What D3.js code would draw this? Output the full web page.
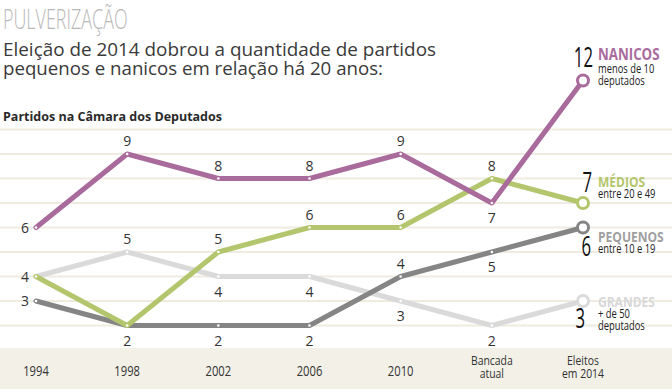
<!DOCTYPE html>
<html>
<head>
<meta charset="utf-8">
<script src="https://cdn.jsdelivr.net/npm/d3@7"></script>
<style>
  body { margin: 0; background: #fff; }
  svg { display: block; }
  text { font-family: "Open Sans", "DejaVu Sans", sans-serif; }
</style>
</head>
<body>
<div id="chart"></div>
<script>
// categories on the x axis (each one may break into two lines)
const categories = ['1994', '1998', '2002', '2006', '2010', 'Bancada|atual', 'Eleitos|em 2014'];

// number of parties in each size group
const nanicos = [6, 9, 8, 8, 9, 7, 12];
const medios = [4, 2, 5, 6, 6, 8, 7];
const pequenos = [3, 2, 2, 2, 4, 5, 6];
const grandes = [4, 5, 4, 4, 3, 2, 3];

// where the value label sits: a = above, b = below, l = left, '' = none
const nanicosLabels = ['l', 'a', 'a', 'a', 'a', 'b', ''];
const mediosLabels = ['l', '', 'a', 'a', 'a', 'a', ''];
const pequenosLabels = ['l', 'b', 'b', 'b', 'a', 'b', ''];
const grandesLabels = ['', 'a', 'b', 'b', 'b', 'b', ''];

const gridValues = [2, 3, 4, 5, 6, 7, 8, 9, 10];

const width = 672;
const height = 392;

const series = [
  { name: 'GRANDES', values: grandes, labels: grandesLabels, color: '#dadada', textColor: '#d8d8d8',
    sub: ['+ de 50', 'deputados'] },
  { name: 'PEQUENOS', values: pequenos, labels: pequenosLabels, color: '#858585', textColor: '#a0a0a0',
    sub: ['entre 10 e 19'] },
  { name: 'MÉDIOS', values: medios, labels: mediosLabels, color: '#b3c66e', textColor: '#b3c66e',
    sub: ['entre 20 e 49'] },
  { name: 'NANICOS', values: nanicos, labels: nanicosLabels, color: '#a96b9c', textColor: '#a96b9c',
    sub: ['menos de 10', 'deputados'] }
];

const xScale = d3.scalePoint()
  .domain(categories)
  .range([36, 583]);

const yScale = d3.scaleLinear()
  .domain([2, 12])
  .range([325.5, 80.5]);

const svg = d3.select('#chart').append('svg')
  .attr('width', width)
  .attr('height', height);

// condensed look: squeeze the measured text horizontally
function narrow(parent, x, y, str, size, sx, anchor, weight) {
  const t = parent.append('text')
    .attr('x', x).attr('y', y)
    .attr('text-anchor', anchor || 'start')
    .style('font-size', size + 'px')
    .style('font-weight', weight || 'normal')
    .text(str);
  const len = t.node().getComputedTextLength();
  t.attr('textLength', len * sx).attr('lengthAdjust', 'spacingAndGlyphs');
  return t;
}

/* header */
narrow(svg, 3, 29, 'PULVERIZAÇÃO', 28, 0.64, 'start', 300)
  .style('fill', '#b8b8b8');

svg.append('text')
  .attr('x', 3).attr('y', 56)
  .attr('textLength', 433)
  .attr('lengthAdjust', 'spacingAndGlyphs')
  .style('font-size', '18px')
  .style('fill', '#3a3a3a')
  .text('Eleição de 2014 dobrou a quantidade de partidos');

svg.append('text')
  .attr('x', 3).attr('y', 75)
  .attr('textLength', 380)
  .attr('lengthAdjust', 'spacingAndGlyphs')
  .style('font-size', '18px')
  .style('fill', '#3a3a3a')
  .text('pequenos e nanicos em relação há 20 anos:');

svg.append('text')
  .attr('x', 3).attr('y', 121)
  .attr('textLength', 219)
  .attr('lengthAdjust', 'spacingAndGlyphs')
  .style('font-size', '13px')
  .style('font-weight', 'bold')
  .style('fill', '#2a2a2a')
  .text('Partidos na Câmara dos Deputados');

/* grid */
svg.append('g')
  .selectAll('line')
  .data(gridValues)
  .enter()
  .append('line')
  .attr('x1', 0).attr('x2', width)
  .attr('y1', d => yScale(d)).attr('y2', d => yScale(d))
  .style('stroke', '#efebe1')
  .style('stroke-width', 2);

/* bottom band with the categories */
svg.append('rect')
  .attr('x', 0).attr('y', 348)
  .attr('width', width).attr('height', 41)
  .style('fill', '#f2f0e7');

const catGroup = svg.append('g');
categories.forEach(d => {
  const parts = d.split('|');
  const y0 = parts.length == 1 ? 376 : 365;
  parts.forEach((p, i) => {
    narrow(catGroup, xScale(d), y0 + i * 12.5, p, parts.length == 1 ? 14 : 13, 0.8, 'middle')
      .style('fill', '#333');
  });
});

/* lines */
const line = d3.line()
  .x((d, i) => xScale(categories[i]))
  .y(d => yScale(d));

const groups = svg.append('g')
  .selectAll('g')
  .data(series)
  .enter()
  .append('g');

groups.append('path')
  .attr('d', d => line(d.values))
  .style('fill', 'none')
  .style('stroke', d => d.color)
  .style('stroke-width', 5)
  .style('stroke-linejoin', 'round')
  .style('stroke-linecap', 'round');

// small white dots on the vertices
groups.selectAll('circle.dot')
  .data(d => d.values.slice(0, -1).map((v, i) => ({ v, i })))
  .enter()
  .append('circle')
  .attr('class', 'dot')
  .attr('cx', d => xScale(categories[d.i]))
  .attr('cy', d => yScale(d.v))
  .attr('r', 1.3)
  .style('fill', '#fff');

// ring on the last point
groups.append('circle')
  .attr('cx', xScale(categories[categories.length - 1]))
  .attr('cy', d => yScale(d.values[d.values.length - 1]))
  .attr('r', 5.5)
  .style('fill', '#fff')
  .style('stroke', d => d.color)
  .style('stroke-width', 3);

/* value labels */
svg.append('g')
  .selectAll('text')
  .data(series.flatMap(s => s.values.map((v, i) => ({ v, i, pos: s.labels[i] }))).filter(d => d.pos))
  .enter()
  .append('text')
  .attr('x', d => xScale(categories[d.i]) + (d.pos == 'l' ? -11 : 0))
  .attr('y', d => yScale(d.v) + (d.pos == 'a' ? -8 : d.pos == 'b' ? 20 : 5))
  .attr('text-anchor', 'middle')
  .style('font-size', '14px')
  .style('fill', '#333')
  .text(d => d.v);

/* end labels */
const endX = xScale(categories[categories.length - 1]);
const endLayout = {
  NANICOS: { num: 67, name: 60, sub: 73, numX: 593, size: 16, sx: 0.83 },
  'MÉDIOS': { num: 192, name: 187, sub: 198, numX: 592, size: 15, sx: 0.8 },
  PEQUENOS: { num: 256, name: 242, sub: 253, numX: 591, size: 14, sx: 0.86 },
  GRANDES: { num: 328, name: 307, sub: 318, numX: 585, size: 15, sx: 0.8 }
};

series.forEach(s => {
  const l = endLayout[s.name];
  const last = s.values[s.values.length - 1];
  narrow(svg, l.numX, l.num, last, 27, 0.62, 'end')
    .style('fill', '#111');
  narrow(svg, endX + 15, l.name, s.name, l.size, l.sx, 'start', 'bold')
    .style('fill', s.textColor);
  s.sub.forEach((t, i) => {
    narrow(svg, endX + 15, l.sub + i * 12, t, 12, 0.78)
      .style('fill', '#222');
  });
});
</script>
</body>
</html>
